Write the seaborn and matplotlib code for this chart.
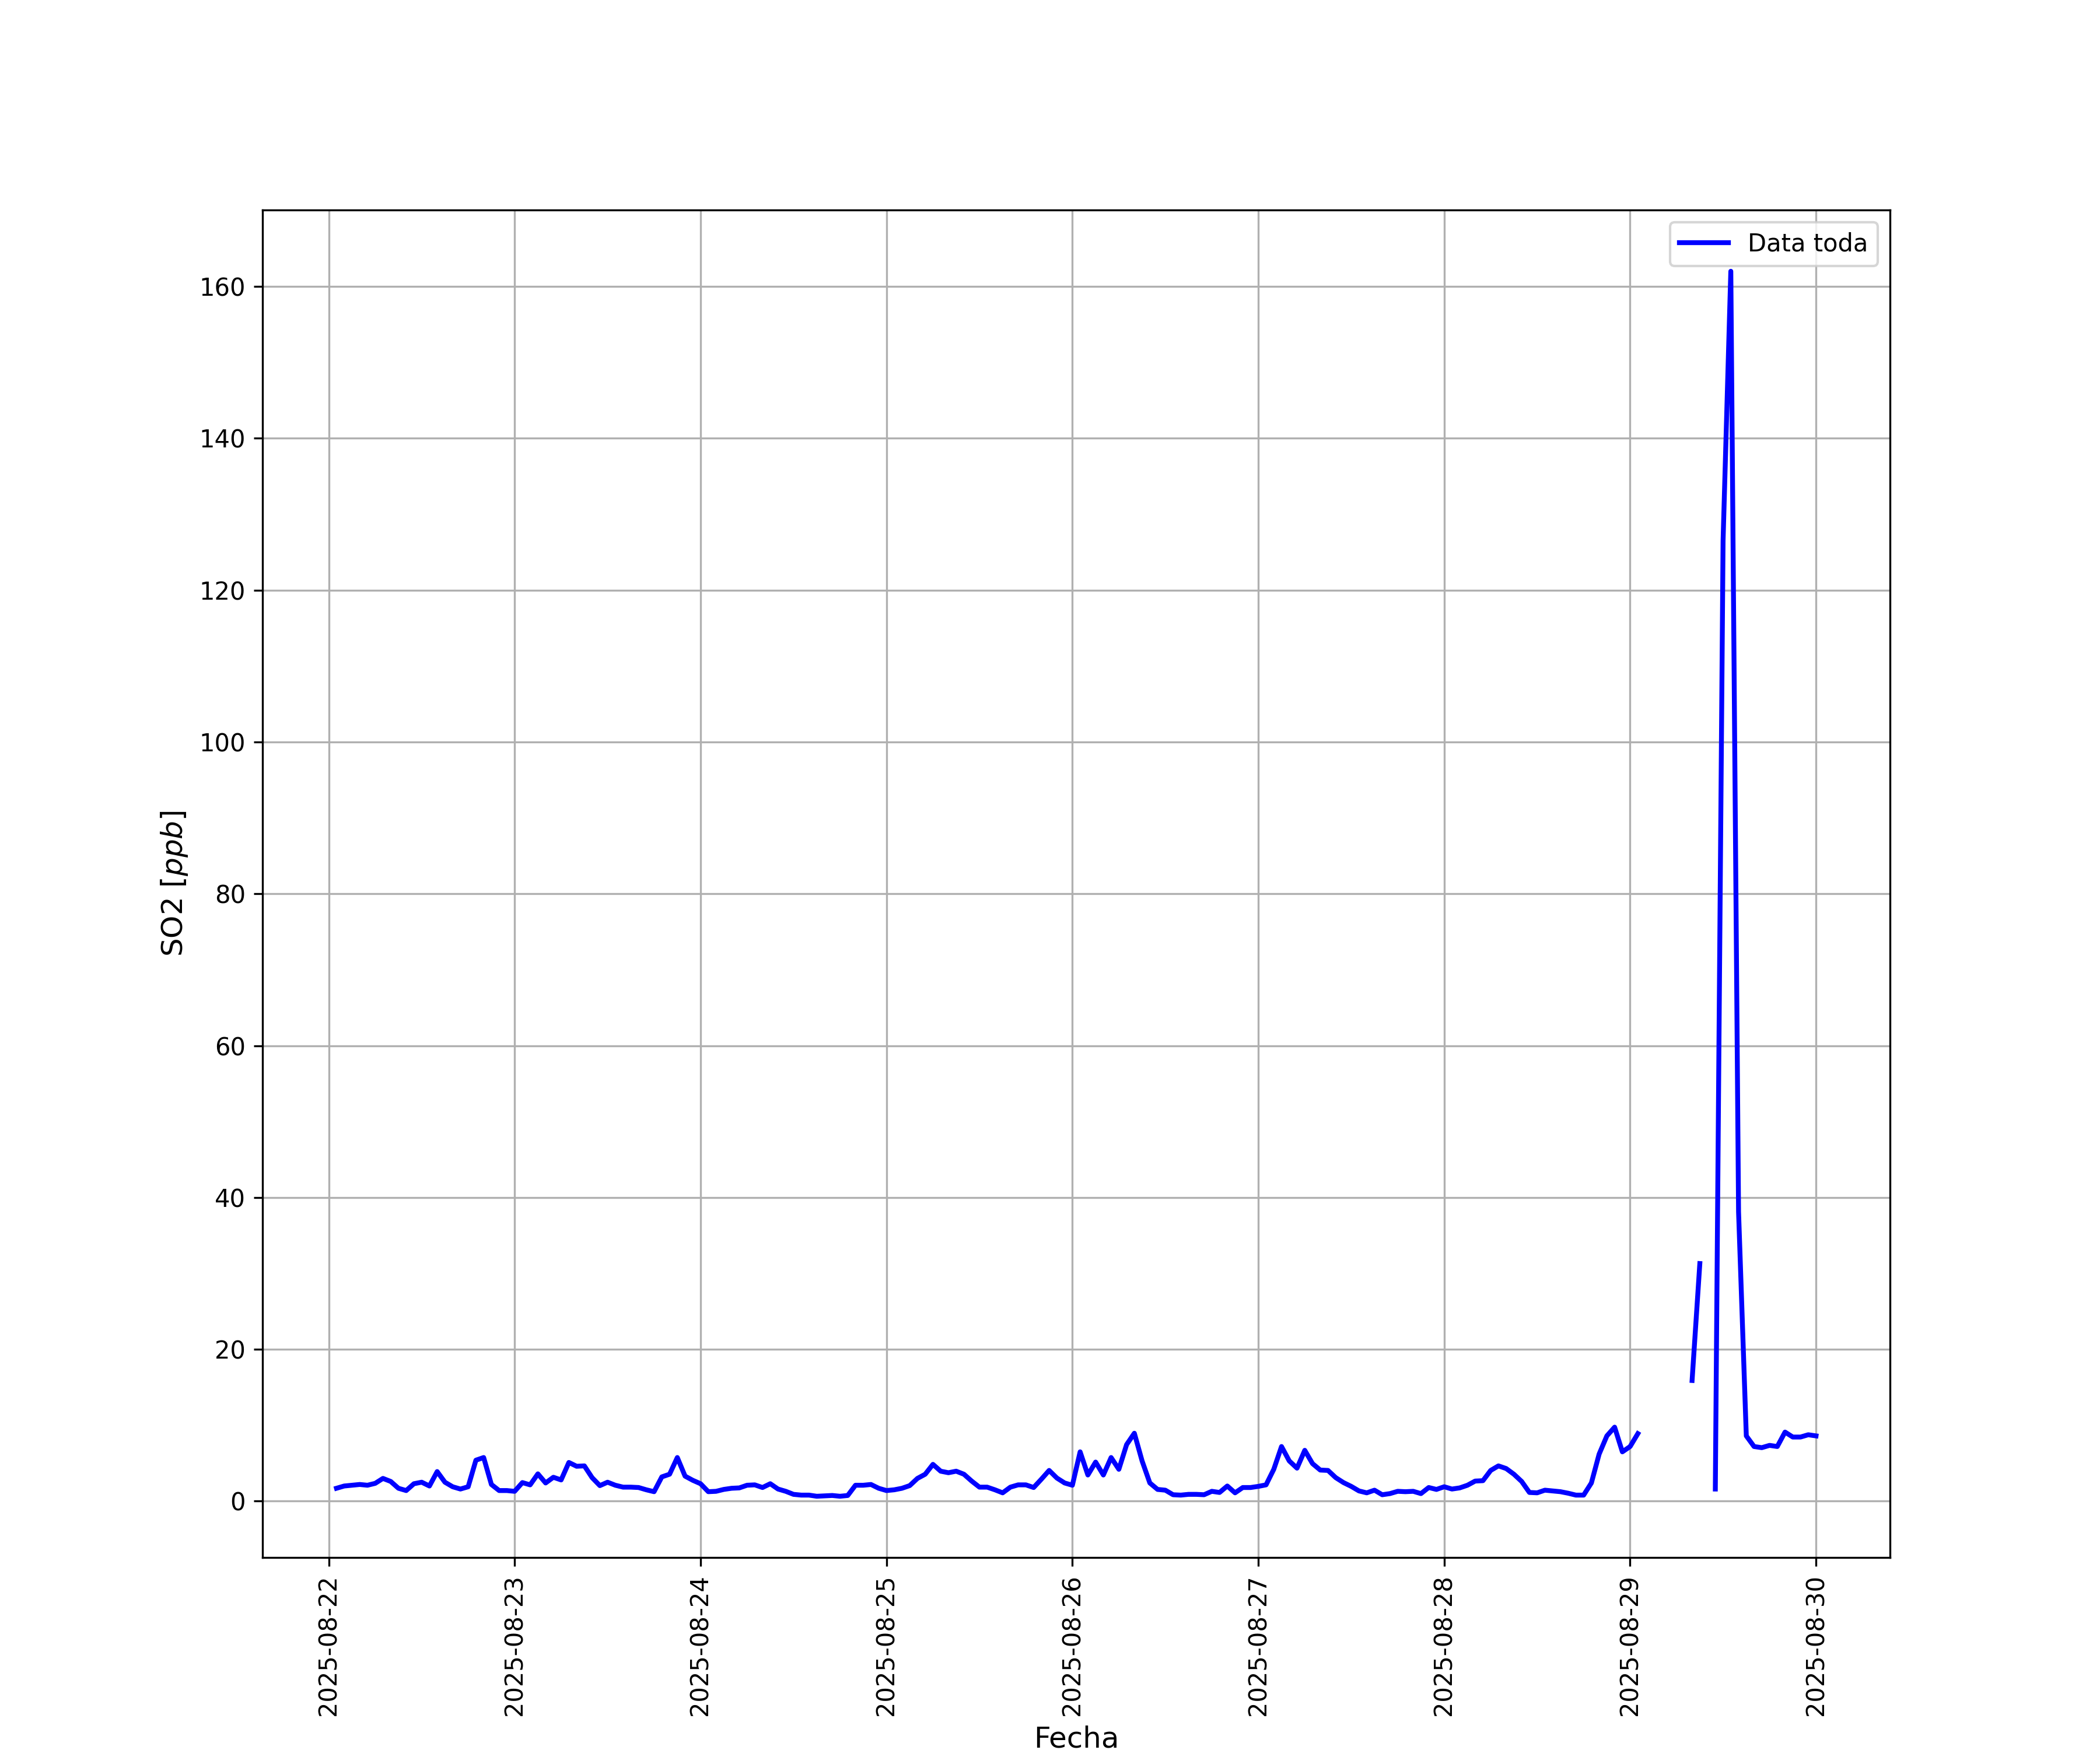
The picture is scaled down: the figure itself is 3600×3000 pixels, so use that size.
#!/usr/bin/env python3

import matplotlib

matplotlib.use("Agg")

import matplotlib.pyplot as plt
import numpy as np
import pandas as pd
import seaborn as sns

nan = np.nan

# hourly SO2 [ppb], each list runs 01:00 .. 24:00 (next day 00:00)
so2_0822 = [1.7, 2.0, 2.1, 2.2, 2.1, 2.35, 3.0, 2.6, 1.7, 1.4, 2.3, 2.5,
            2.0, 3.9, 2.5, 1.9, 1.6, 1.9, 5.4, 5.75, 2.2, 1.4, 1.4, 1.3]
so2_0823 = [2.45, 2.15, 3.6, 2.4, 3.15, 2.8, 5.1, 4.6, 4.65, 3.1, 2.05, 2.5,
            2.1, 1.85, 1.85, 1.8, 1.5, 1.25, 3.2, 3.55, 5.75, 3.3, 2.75, 2.3]
so2_0824 = [1.25, 1.3, 1.55, 1.7, 1.75, 2.1, 2.15, 1.8, 2.3, 1.6, 1.3, 0.9,
            0.8, 0.8, 0.65, 0.7, 0.75, 0.65, 0.75, 2.1, 2.1, 2.2, 1.7, 1.4]
so2_0825 = [1.5, 1.7, 2.05, 3.0, 3.55, 4.85, 3.95, 3.75, 3.95, 3.55, 2.65, 1.85,
            1.85, 1.5, 1.1, 1.85, 2.15, 2.15, 1.8, 2.9, 4.05, 3.05, 2.4, 2.1]
so2_0826 = [6.5, 3.45, 5.15, 3.45, 5.75, 4.2, 7.45, 8.95, 5.3, 2.4, 1.55, 1.45,
            0.85, 0.8, 0.9, 0.9, 0.85, 1.3, 1.15, 2.0, 1.1, 1.8, 1.8, 1.95]
so2_0827 = [2.15, 4.2, 7.2, 5.3, 4.35, 6.7, 4.95, 4.1, 4.05, 3.1, 2.45, 1.95,
            1.35, 1.1, 1.45, 0.85, 1.0, 1.3, 1.25, 1.3, 1.0, 1.8, 1.55, 1.9]
so2_0828 = [1.6, 1.75, 2.1, 2.65, 2.7, 4.05, 4.65, 4.3, 3.55, 2.6, 1.15, 1.1,
            1.45, 1.35, 1.25, 1.05, 0.8, 0.8, 2.4, 6.2, 8.6, 9.75, 6.5, 7.2]
so2_0829 = [8.9, nan, nan, nan, nan, nan, nan, 15.9, 31.3, nan, 1.6, 126.5,
            162.0, 38.1, 8.6, 7.2, 7.05, 7.35, 7.2, 9.1, 8.45, 8.45, 8.75, 8.6]

START = "2025-08-22 01:00"


def build_frame() -> pd.DataFrame:
    values = (so2_0822 + so2_0823 + so2_0824 + so2_0825
              + so2_0826 + so2_0827 + so2_0828 + so2_0829)
    df = pd.DataFrame({
        "Fecha": pd.date_range(START, periods=len(values), freq="h"),
        "SO2": values,
    })
    # missing hours break the line, so number the continuous stretches
    df["tramo"] = df["SO2"].isna().cumsum()
    return df.dropna(subset=["SO2"])


def main() -> None:
    df = build_frame()

    fig, ax = plt.subplots(figsize=(12, 10))
    sns.lineplot(
        data=df,
        x="Fecha",
        y="SO2",
        units="tramo",
        estimator=None,
        color="blue",
        linewidth=2,
        ax=ax,
    )

    ax.legend(handles=ax.get_lines()[:1], labels=["Data toda"], loc="upper right")
    ax.set_xlabel("Fecha", fontsize=12)
    ax.set_ylabel("SO2 [$ppb$]", fontsize=12)
    ax.grid(True)
    ax.margins(x=0.05, y=0.05)
    plt.setp(ax.get_xticklabels(), rotation=90)

    fig.savefig("out.png", dpi=300)
    plt.close(fig)


if __name__ == "__main__":
    main()
